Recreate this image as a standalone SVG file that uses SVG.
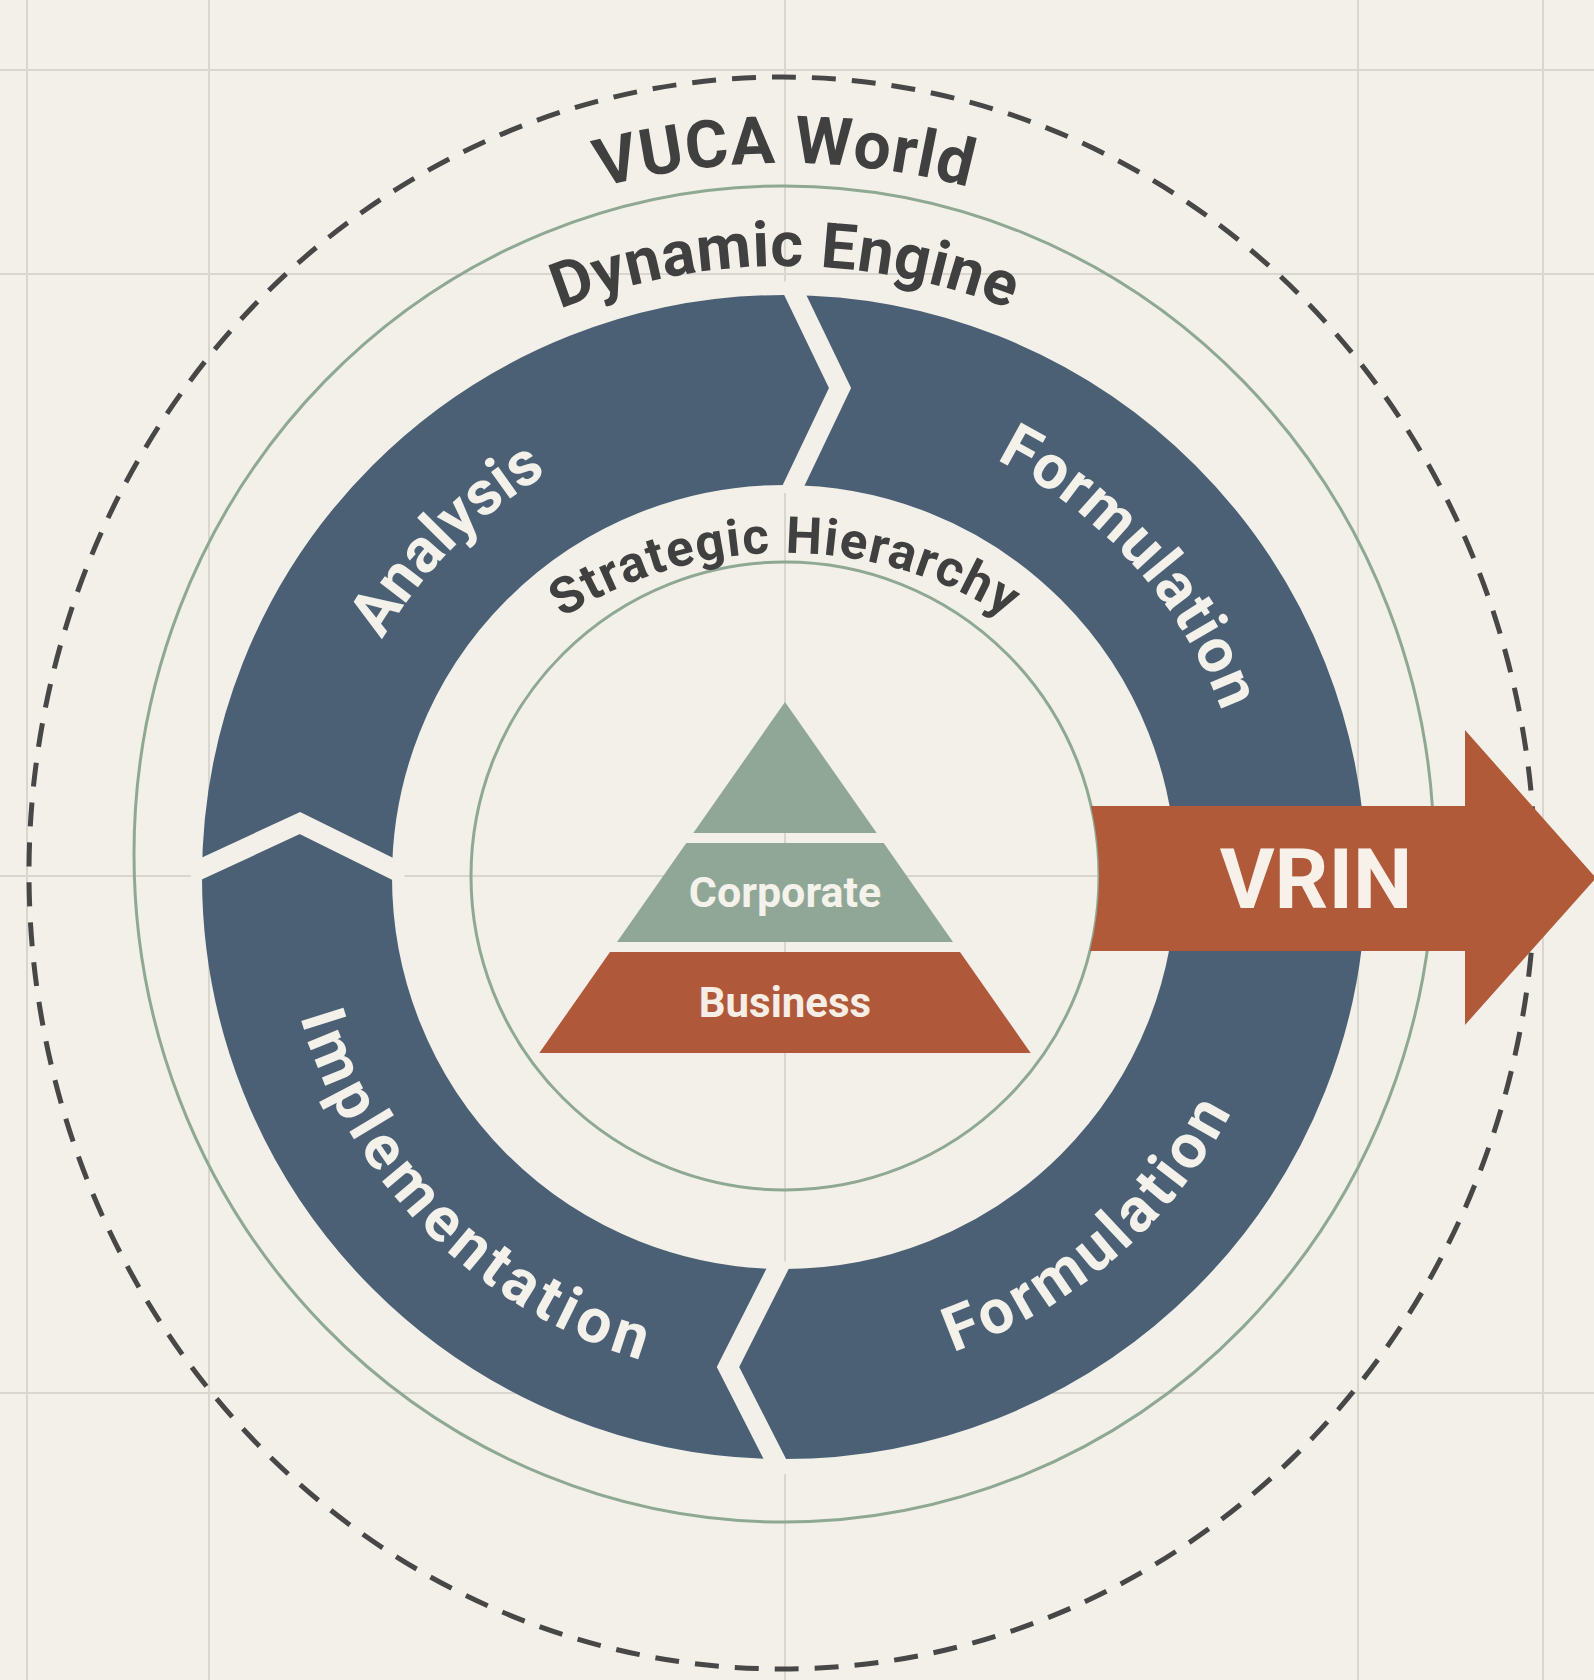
<svg xmlns="http://www.w3.org/2000/svg" width="1594" height="1680" viewBox="0 0 1594 1680">
<defs>
<style>
.grid{stroke:#D8D6CE;stroke-width:2;fill:none}
.head{font-family:Roboto,"Liberation Sans",sans-serif;font-weight:700;fill:#404040;text-anchor:middle}
.ring-label{font-family:Roboto,"Liberation Sans",sans-serif;font-weight:700;fill:#F3F1EA;font-size:62px;text-anchor:middle}
.tier{font-family:Roboto,"Liberation Sans",sans-serif;font-weight:700;text-anchor:middle}
.sep{fill:none;stroke:#F2F0E8;stroke-width:20;stroke-linejoin:miter;stroke-linecap:butt}
.guide{fill:none;stroke:#8FA894;stroke-width:3}
</style>
<path id="p-vuca" d="M 115 632.2 A 713 713 0 0 1 1455 632.2"/>
<path id="p-dyn" d="M 211.8 667.4 A 610 610 0 0 1 1358.2 667.4"/>
<path id="p-strat" d="M 397.8 824.1 A 412 412 0 0 1 1172.2 824.1"/>
<path id="p-analysis" d="M 334.1 997.7 A 467 467 0 0 1 905.1 424.7"/>
<path id="p-form1" d="M 689.5 418.9 A 467 467 0 0 1 1228.7 1021.8"/>
<path id="p-impl" d="M 297.0 746.2 A 505 505 0 0 0 916.6 1363.6"/>
<path id="p-form2" d="M 620.6 1353.5 A 505 505 0 0 0 1280.7 779.6"/>
</defs>

<rect x="0" y="0" width="1594" height="1680" fill="#F2F0E8"/>

<g id="grid">
<line class="grid" x1="27" y1="0" x2="27" y2="1680"/>
<line class="grid" x1="209" y1="0" x2="209" y2="1680"/>
<line class="grid" x1="785" y1="0" x2="785" y2="1680"/>
<line class="grid" x1="1358" y1="0" x2="1358" y2="1680"/>
<line class="grid" x1="1543" y1="0" x2="1543" y2="1680"/>
<line class="grid" x1="0" y1="70" x2="1594" y2="70"/>
<line class="grid" x1="0" y1="274" x2="1594" y2="274"/>
<line class="grid" x1="0" y1="876" x2="1594" y2="876"/>
<line class="grid" x1="0" y1="1393" x2="1594" y2="1393"/>
</g>

<g id="vuca-world">
<ellipse cx="782" cy="873" rx="753" ry="796" fill="none" stroke="#474747" stroke-width="5" stroke-dasharray="24 16"/>
<text class="head" font-size="66" letter-spacing="1"><textPath href="#p-vuca" startOffset="50%">VUCA World</textPath></text>
</g>

<g id="dynamic-engine">
<ellipse class="guide" cx="784" cy="854" rx="650" ry="668"/>
<text class="head" font-size="63" letter-spacing="0.5"><textPath href="#p-dyn" startOffset="50%">Dynamic Engine</textPath></text>
</g>

<g id="cycle">
<circle cx="784" cy="877" r="487" fill="none" stroke="#4B6075" stroke-width="190"/>
<g id="separators">
<polyline class="sep" points="788,280 840,388 789,495"/>
<polyline class="sep" points="190,874 300,823 405,875"/>
<polyline class="sep" points="782,1260 728,1367 783,1475"/>
</g>
<g id="analysis"><text class="ring-label"><textPath href="#p-analysis" startOffset="50%">Analysis</textPath></text></g>
<g id="formulation-top"><text class="ring-label" letter-spacing="1"><textPath href="#p-form1" startOffset="50%">Formulation</textPath></text></g>
<g id="implementation"><text class="ring-label" letter-spacing="5"><textPath href="#p-impl" startOffset="50%">Implementation</textPath></text></g>
<g id="formulation-bottom"><text class="ring-label" letter-spacing="4"><textPath href="#p-form2" startOffset="50%">Formulation</textPath></text></g>
</g>

<g id="strategic-hierarchy">
<circle class="guide" cx="785" cy="876" r="314"/>
<text class="head" font-size="51" letter-spacing="1.5"><textPath href="#p-strat" startOffset="50%">Strategic Hierarchy</textPath></text>
</g>

<g id="pyramid">
<g id="tier-top"><polygon points="785,702 693.3,833 876.7,833" fill="#90A797"/></g>
<g id="tier-corporate">
<polygon points="686.3,843 883.7,843 953,942 617,942" fill="#90A797"/>
<text class="tier" x="785" y="907" font-size="43" fill="#F4F2EB">Corporate</text>
</g>
<g id="tier-business">
<polygon points="610,952 960,952 1030.7,1053 539.3,1053" fill="#B0583A"/>
<text class="tier" x="785" y="1017" font-size="42" fill="#F6EEE5">Business</text>
</g>
</g>

<g id="vrin">
<path d="M 1091 806 L 1465 806 L 1465 730 L 1596 878 L 1465 1025 L 1465 951 L 1090 951 A 314 314 0 0 0 1091 806 Z" fill="#B15A3A"/>
<text class="tier" x="1316" y="908" font-size="84" fill="#F7F1EA">VRIN</text>
</g>
</svg>
